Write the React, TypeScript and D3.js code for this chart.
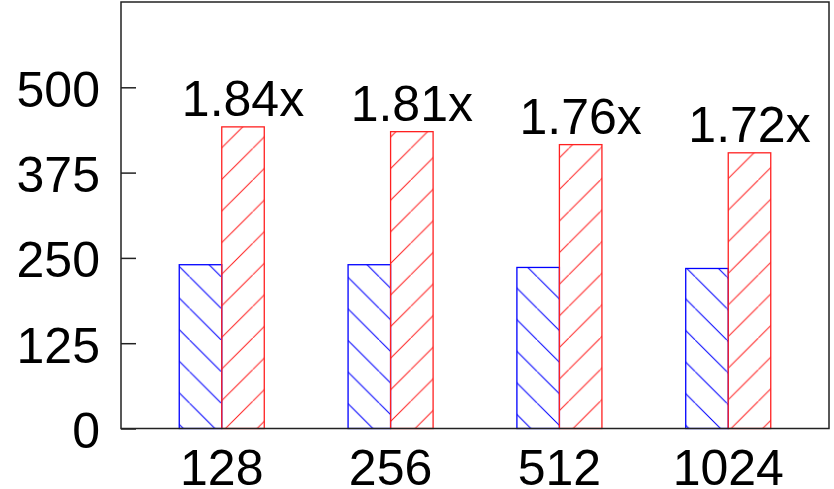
import React, { useEffect, useRef } from 'react';
import * as d3 from 'd3';

// data
const sizes = ['128', '256', '512', '1024'];
const baseline = [240, 240, 236, 234.5];
const optimized = [442, 435, 416, 404];
const speedups = ['1.84x', '1.81x', '1.76x', '1.72x'];
const yTicks = [0, 125, 250, 375, 500];

const App = () => {
  const svgRef = useRef<SVGSVGElement>(null);

  useEffect(() => {
    if (!svgRef.current) return;
    document.body.style.margin = '0';

    const svg = d3.select(svgRef.current);
    svg.selectAll('*').remove();

    const width = 834;
    const height = 489;
    const plot = { left: 121, right: 829, top: 2, bottom: 428.5 };
    const font = "'Liberation Sans', Arial, sans-serif";

    svg.attr('width', width).attr('height', height);

    // hatch patterns
    const defs = svg.append('defs');
    const step = 31.6;
    const blue = defs.append('pattern')
      .attr('id', 'hatchBlue')
      .attr('patternUnits', 'userSpaceOnUse')
      .attr('width', step)
      .attr('height', step)
      .attr('patternTransform', 'translate(0,24)');
    blue.append('line')
      .attr('x1', -1).attr('y1', -1).attr('x2', step + 1).attr('y2', step + 1)
      .attr('stroke', '#0000ff').attr('stroke-width', 1);

    const red = defs.append('pattern')
      .attr('id', 'hatchRed')
      .attr('patternUnits', 'userSpaceOnUse')
      .attr('width', step)
      .attr('height', step)
      .attr('patternTransform', 'translate(0,22)');
    red.append('line')
      .attr('x1', -1).attr('y1', step + 1).attr('x2', step + 1).attr('y2', -1)
      .attr('stroke', '#ff2020').attr('stroke-width', 1);

    // scales
    const x = d3.scaleBand()
      .domain(sizes)
      .range([plot.left, plot.right])
      .paddingInner(0.4964)
      .paddingOuter(0.345);

    const inner = d3.scaleBand()
      .domain(['base', 'opt'])
      .range([0, x.bandwidth()]);

    const y = d3.scaleLinear()
      .domain([0, 625])
      .range([plot.bottom, plot.top]);

    // background
    svg.append('rect')
      .attr('x', 0).attr('y', 0)
      .attr('width', width).attr('height', height)
      .attr('fill', 'white');

    const series = [
      { key: 'base', values: baseline, fill: 'url(#hatchBlue)', stroke: '#0000ff' },
      { key: 'opt', values: optimized, fill: 'url(#hatchRed)', stroke: '#ff2020' },
    ];

    series.forEach(s => {
      const g = svg.append('g');
      g.selectAll('rect')
        .data(sizes)
        .enter()
        .append('rect')
        .attr('x', (d) => (x(d) as number) + (inner(s.key) as number))
        .attr('y', (d, i) => y(s.values[i]))
        .attr('width', inner.bandwidth())
        .attr('height', (d, i) => plot.bottom - y(s.values[i]))
        .attr('fill', s.fill)
        .attr('stroke', s.stroke)
        .attr('stroke-width', 1.3);
    });

    // speedup labels above red bars
    svg.append('g')
      .selectAll('text')
      .data(sizes)
      .enter()
      .append('text')
      .attr('x', (d) => (x(d) as number) + (inner('opt') as number) + inner.bandwidth() / 2)
      .attr('y', (d, i) => y(optimized[i]) - 11)
      .attr('text-anchor', 'middle')
      .attr('font-family', font)
      .attr('font-size', 50)
      .attr('fill', 'black')
      .text((d, i) => speedups[i]);

    // y axis (ticks inward)
    const yAxis = svg.append('g')
      .attr('transform', `translate(${plot.left},0)`)
      .call(d3.axisLeft(y).tickValues(yTicks).tickSizeInner(-15).tickSizeOuter(0).tickPadding(21));
    yAxis.select('.domain').remove();
    yAxis.selectAll('line').attr('stroke', '#222').attr('stroke-width', 1.5);
    yAxis.selectAll('text')
      .attr('font-family', font)
      .attr('font-size', 50)
      .attr('fill', 'black')
      .attr('dy', '0.38em');

    // x axis labels
    const xAxis = svg.append('g')
      .attr('transform', `translate(0,${plot.bottom})`)
      .call(d3.axisBottom(x).tickSize(0).tickPadding(21));
    xAxis.select('.domain').remove();
    xAxis.selectAll('text')
      .attr('font-family', font)
      .attr('font-size', 50)
      .attr('fill', 'black');

    // frame
    svg.append('rect')
      .attr('x', plot.left)
      .attr('y', plot.top)
      .attr('width', plot.right - plot.left)
      .attr('height', plot.bottom - plot.top)
      .attr('fill', 'none')
      .attr('stroke', '#222')
      .attr('stroke-width', 1.5);
  }, []);

  return (
    <div style={{ width: 834, height: 489, position: 'relative' }}>
      <svg ref={svgRef} style={{ display: 'block' }} />
    </div>
  );
};

export default App;
